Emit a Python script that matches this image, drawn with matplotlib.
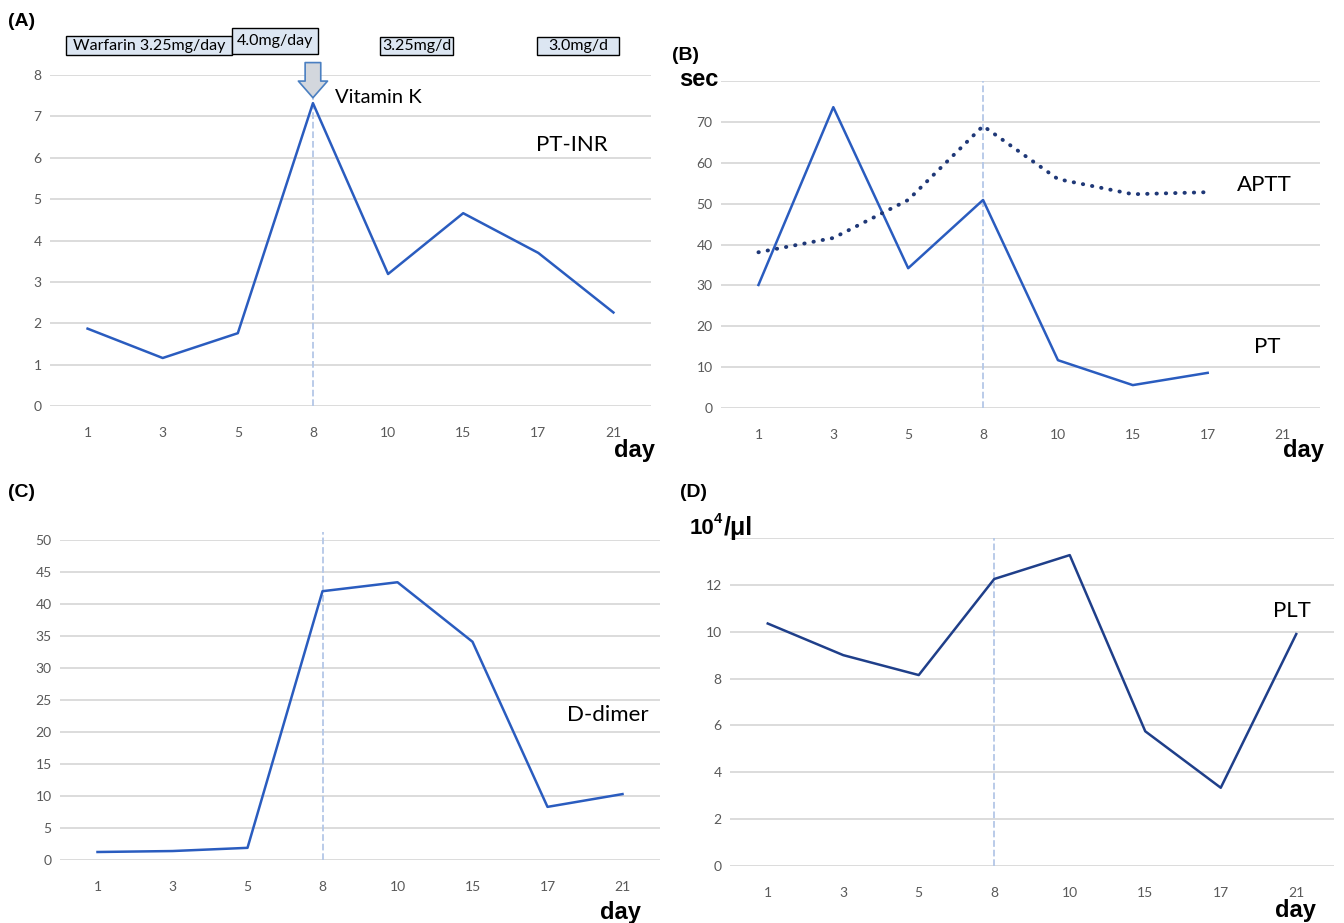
import numpy as np
import matplotlib.pyplot as plt
from matplotlib.patches import Rectangle

# Datos
days = ['1', '3', '5', '8', '10', '15', '17', '21']
pt_inr = [1.87, 1.16, 1.76, 7.32, 3.19, 4.66, 3.70, 2.26]
pt_sec = [30.1, 73.6, 34.2, 50.9, 11.7, 5.6, 8.6]
aptt_sec = [38.1, 41.6, 50.9, 69.0, 56.0, 52.3, 52.8]
d_dimer = [1.25, 1.4, 1.9, 42.0, 43.4, 34.1, 8.3, 10.3]
plt_count = [10.35, 9.0, 8.15, 12.25, 13.27, 5.75, 3.34, 9.9]
dose_labels = ['Warfarin 3.25mg/day', '4.0mg/day', '3.25mg/d', '3.0mg/d']
# cajas de dosis (x0, x1, y0, y1) en coordenadas del panel A
dose_boxes = [(-0.29, 1.92, 8.48, 8.94), (1.92, 3.07, 8.51, 9.14),
              (3.89, 4.87, 8.48, 8.92), (5.98, 7.08, 8.48, 8.92)]

W, H = 1344, 923
fig = plt.figure(figsize=(W / 100, H / 100), dpi=100)

blue = '#2a5cbf'
navy = '#1f3f8a'
grid_c = '#d9d9d9'
tick_c = '#595959'
vline_c = '#b4c7e7'
txt_font = 'Lato'
x = np.arange(len(days))


def ax_at(l, t, r, b):
    return fig.add_axes([l / W, 1 - b / H, (r - l) / W, (b - t) / H])


def style(ax, ymax, step, day_off, hide_top=False):
    ax.set_xlim(-0.5, len(days) - 0.5)
    ax.set_ylim(0, ymax)
    ax.set_xticks(x)
    ax.set_xticklabels(days, fontsize=10, color=tick_c, family=txt_font)
    ticks = np.arange(0, ymax + step / 2, step)
    ax.set_yticks(ticks)
    labels = ['%g' % v for v in ticks]
    if hide_top:
        labels[-1] = ''
    ax.set_yticklabels(labels, fontsize=10, color=tick_c, family=txt_font)
    ax.tick_params(length=0)
    ax.tick_params(axis='x', pad=15)
    ax.tick_params(axis='y', pad=6)
    for s in ax.spines.values():
        s.set_visible(False)
    ax.grid(axis='y', color=grid_c, linewidth=1.3)
    ax.set_axisbelow(True)
    dx, dy = day_off
    ax.annotate('day', xy=(1, 0), xycoords='axes fraction',
                xytext=(dx * 0.72, -dy * 0.72), textcoords='offset points',
                ha='right', va='center', fontsize=17, fontweight='bold',
                family='Liberation Sans', annotation_clip=False)


# (A) PT-INR
axA = ax_at(50, 75, 651, 406)
style(axA, 8, 1, (4, 45))
axA.plot([3, 3], [0, 7.5], color=vline_c, linestyle='--', linewidth=1.3, zorder=1)
axA.plot(x, pt_inr, color=blue, linewidth=1.8, zorder=3)
axA.text(6.45, 6.31, 'PT-INR', ha='center', va='center', fontsize=16, family=txt_font)
axA.text(3.3, 7.46, 'Vitamin K', ha='left', va='center', fontsize=14.5, family=txt_font)
axA.annotate('', xy=(3, 7.45), xytext=(3, 8.3),
             arrowprops=dict(arrowstyle='simple,head_width=1.4,head_length=0.8,tail_width=0.75',
                             fc='#d3d7dd', ec='#4a7fc1', lw=1.2, mutation_scale=15,
                             shrinkA=0, shrinkB=0), annotation_clip=False)
for i, (lab, (x0, x1, y0, y1)) in enumerate(zip(dose_labels, dose_boxes)):
    axA.add_patch(Rectangle((x0, y0), x1 - x0, y1 - y0, fc='#dce6f2', ec='black',
                            lw=1.0, clip_on=False, zorder=5 + 2 * i))
    if i == 0:
        axA.text(x0 + 0.09, (y0 + y1) / 2, lab, ha='left', va='center', fontsize=11.5,
                 family=txt_font, zorder=6 + 2 * i, clip_on=False)
    else:
        axA.text((x0 + x1) / 2, (y0 + y1) / 2, lab, ha='center', va='center', fontsize=11.5,
                 family=txt_font, zorder=6 + 2 * i, clip_on=False)

# (B) PT / APTT
axB = ax_at(721, 81, 1320, 408)
style(axB, 80, 10, (4, 43), hide_top=True)
axB.plot([3, 3], [0, 80], color=vline_c, linestyle='--', linewidth=1.3, zorder=1)
axB.plot(x[:len(pt_sec)], pt_sec, color=blue, linewidth=1.8, zorder=3)
axB.plot(x[:len(aptt_sec)], aptt_sec, color='#1f3877', linewidth=2.8,
         linestyle=(0, (0.1, 2.3)), dash_capstyle='round', zorder=3)
axB.text(6.39, 54.6, 'APTT', ha='left', va='center', fontsize=16, family=txt_font)
axB.text(6.62, 14.9, 'PT', ha='left', va='center', fontsize=16, family=txt_font)
fig.text(719 / W, 1 - 79 / H, 'sec', ha='right', va='center',
         fontsize=17, fontweight='bold', family='Liberation Sans')

# (C) D-dimer
axC = ax_at(60, 540, 660, 860)
style(axC, 50, 5, (-19, 52))
axC.plot([3, 3], [0, 51.3], color=vline_c, linestyle='--', linewidth=1.3, zorder=1,
         clip_on=False)
axC.plot(x, d_dimer, color=blue, linewidth=1.8, zorder=3)
axC.text(6.26, 22.7, 'D-dimer', ha='left', va='center', fontsize=16, family=txt_font)

# (D) PLT
axD = ax_at(730, 538, 1334, 866)
style(axD, 14, 2, (-18, 44), hide_top=True)
axD.plot([3, 3], [0, 14], color=vline_c, linestyle='--', linewidth=1.3, zorder=1)
axD.plot(x, plt_count, color=navy, linewidth=1.8, zorder=3)
axD.text(6.69, 10.9, 'PLT', ha='left', va='center', fontsize=16, family=txt_font)
fig.text(690 / W, 1 - 528 / H, '10', ha='left', va='center',
         fontsize=16, fontweight='bold', family='Liberation Sans')
fig.text(714 / W, 1 - 519 / H, '4', ha='left', va='center',
         fontsize=10.5, fontweight='bold', family='Liberation Sans')
fig.text(724 / W, 1 - 528 / H, '/μl', ha='left', va='center',
         fontsize=18, fontweight='bold', family='Liberation Sans')

# Etiquetas de panel
for lab, px, py in [('(A)', 8, 22), ('(B)', 672, 55), ('(C)', 8, 493), ('(D)', 680, 493)]:
    fig.text(px / W, 1 - py / H, lab, ha='left', va='center', fontsize=14,
             fontweight='bold', family='Liberation Sans')

fig.savefig('out.png', dpi=100)
